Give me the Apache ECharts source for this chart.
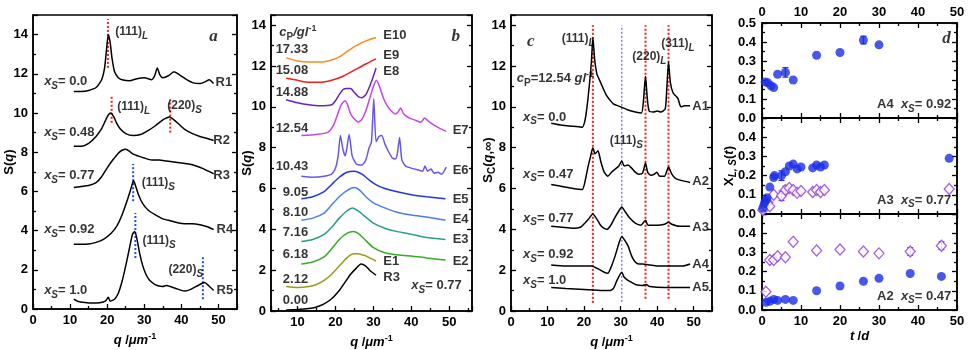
<!DOCTYPE html>
<html>
<head>
<meta charset="utf-8">
<script src="https://cdn.jsdelivr.net/npm/echarts@6/dist/echarts.min.js"></script>
<style>html,body{margin:0;background:#fff}#container{width:970px;height:350px}</style>
</head>
<body>
<div id="container"></div>
<script>
// ---------- panel a : S(q) of samples R1..R5 ----------
const r1 = [[11,11.1],[13,11.1],[15,11.15],[17,11.3],[18.5,11.7],[19.3,12.3],[19.8,13.2],[20.3,14.0],[20.8,13.6],[21.3,12.8],[22,12.1],[23,11.8],[24,11.7],[26,11.65],[28,11.75],[30,11.8],[32,11.7],[32.8,11.9],[33.5,12.3],[34.2,11.95],[35,11.8],[36.5,11.9],[38,12.1],[39.5,11.95],[41,11.75],[43,11.55],[45,11.5],[46.5,11.6],[47.5,11.7],[48.7,11.5]];
const r2 = [[11,8.3],[13,8.3],[15,8.45],[17,8.8],[18.5,9.2],[19.5,9.6],[20.3,9.9],[21,10.0],[21.8,9.8],[22.5,9.5],[23.5,9.2],[25,8.95],[27,8.85],[29,8.9],[31,9.1],[33,9.35],[35,9.65],[36.8,9.8],[38,9.65],[39.5,9.4],[41,9.15],[43,8.95],[45,8.8],[47,8.7],[48.7,8.6]];
const r3 = [[11,6.2],[13,6.25],[15,6.3],[17,6.45],[18.5,6.75],[20,7.2],[21.5,7.6],[23,7.95],[24,8.1],[25,8.15],[26,8.05],[27,7.9],[28.5,7.8],[30,7.7],[32,7.6],[34,7.6],[36,7.55],[38,7.5],[40,7.45],[42,7.4],[44,7.3],[46,7.15],[48.7,6.9]];
const r4 = [[11,3.3],[13,3.3],[15,3.32],[17,3.4],[19,3.55],[21,3.85],[22.5,4.2],[24,4.8],[25.5,5.6],[26.5,6.2],[27.1,6.55],[27.8,6.2],[28.5,5.8],[29.5,5.4],[31,5.05],[33,4.8],[35,4.6],[37,4.5],[39,4.4],[41,4.35],[43,4.35],[45,4.3],[47,4.2],[48.7,4.05]];
const r5 = [[11,0.5],[12,0.4],[14,0.33],[16,0.3],[18,0.32],[19.5,0.4],[20.3,0.6],[20.8,0.4],[22,0.5],[23,0.8],[24,1.4],[25,2.2],[26,3.1],[26.8,3.8],[27.4,3.95],[28,3.6],[28.8,2.8],[29.6,2.2],[30.5,1.75],[31.5,1.45],[32.5,1.3],[33.5,1.2],[35,1.15],[36,1.2],[37,1.15],[38.5,1.05],[40,0.95],[41,0.92],[42.5,1.0],[44,1.15],[45.5,1.3],[46.3,1.35],[47.3,1.2],[48.7,0.95]];
// dotted markers [q, from, to]
const redA = [[20.2,12.3,14.8],[21.2,9.5,10.9],[37,9.0,10.7]];
const blueA = [[27,5.5,7.4],[27.6,2.6,4.9],[45.8,0.5,2.65]];

// ---------- panel b : S(q) for different c_P ----------
const e10 = [[7,12.4],[10,12.25],[13,12.2],[16,12.2],[19,12.3],[21,12.45],[23,12.7],[25,12.95],[27,13.15],[29,13.3],[30.7,13.4]];
const e9 = [[7,11.4],[10,11.3],[13,11.2],[16,11.2],[19,11.3],[22,11.5],[25,11.8],[28,12.1],[30.7,12.35]];
const e8 = [[7,10.35],[10,10.2],[13,10.1],[16,10.05],[19,10.1],[20,10.3],[21,10.6],[22,10.85],[23,10.9],[24,10.9],[25,10.7],[26,10.5],[27,10.45],[28,10.6],[29,11.0],[30,11.5],[30.7,11.9]];
const e7 = [[11,8.6],[15,8.65],[18,8.75],[19.5,9.1],[20.5,9.6],[21.5,10.1],[22.5,10.3],[23.2,10.1],[24,9.65],[25,9.4],[26,9.25],[27,9.4],[28,9.8],[29,10.4],[30,11.0],[30.8,11.3],[31.6,11.0],[32.5,10.5],[33.5,10.1],[34.5,9.85],[35.8,9.65],[36.5,9.75],[37.2,9.95],[38,9.65],[39.5,9.45],[41,9.35],[42.5,9.25],[43.5,9.45],[44.5,9.3],[46,9.1],[47.5,8.95],[49.2,8.8]];
const e6 = [[11,6.6],[14,6.55],[17,6.6],[19,6.7],[20,7.0],[20.7,7.6],[21.3,8.6],[22,7.9],[22.6,7.6],[23.6,8.65],[24.4,7.6],[25.5,7.2],[27,7.15],[28,7.4],[28.8,7.95],[29.5,8.3],[30.1,10.4],[30.7,8.3],[31.5,8.55],[32.2,8.6],[33,8.2],[34,7.8],[35,7.5],[35.8,7.45],[36.3,7.7],[36.9,8.5],[37.5,7.4],[38.5,7.1],[40,7.0],[42,6.9],[43,6.85],[43.6,7.1],[44.3,6.85],[45.2,6.95],[46,6.75],[47,6.8],[48,6.7],[49.2,7.05]];
const e5 = [[11,5.5],[14,5.6],[17,5.85],[19,6.2],[21,6.55],[23,6.8],[25,6.85],[27,6.7],[29,6.4],[31,6.15],[33,6.0],[36,5.85],[40,5.7],[44,5.6],[49,5.5]];
const e4 = [[11,4.45],[14,4.55],[17,4.8],[19,5.2],[21,5.6],[23,5.9],[25,6.05],[26.5,5.9],[28,5.6],[30,5.3],[33,5.05],[36,4.85],[40,4.7],[44,4.6],[49,4.45]];
const e3 = [[11,3.4],[14,3.5],[17,3.75],[19,4.1],[21,4.55],[23,4.9],[24.5,5.05],[26,4.9],[28,4.6],[30,4.3],[33,4.05],[36,3.9],[39,3.8],[41,3.72],[44,3.6],[49,3.5]];
const e2 = [[11,2.3],[14,2.4],[17,2.65],[19,3.05],[21,3.5],[23,3.8],[24.7,3.9],[26,3.8],[28,3.45],[30,3.1],[33,2.85],[36,2.75],[40,2.7],[44,2.6],[49,2.5]];
const e1 = [[7,1.2],[10,1.15],[13,1.2],[15,1.3],[17,1.5],[19,1.8],[21,2.2],[23,2.6],[24.7,2.8],[26,2.8],[27,2.75],[28,2.7],[29,2.6],[30.7,2.45]];
const r3b = [[7,0.05],[10,0.07],[13,0.12],[15,0.2],[17,0.35],[19,0.6],[21,1.0],[22.5,1.4],[24,1.8],[25.5,2.1],[26.7,2.3],[28,2.2],[29,2.0],[30,1.85],[30.7,1.75]];
const curvesB = [e10, e9, e8, e7, e6, e5, e4, e3, e2, e1, r3b];
const coloursB = ['#ff8a1c', '#f0201c', '#6a20c8', '#c444ee', '#6657f2', '#2036e6', '#4a7cf2', '#2a9e88', '#38aa28', '#9a9a18', '#000'];

// ---------- panel c : S_C(q, inf) of A1..A5 ----------
const a1 = [[11,9.2],[14,9.1],[17,9.05],[19.5,9.0],[20.2,9.3],[20.8,10.0],[21.4,11.0],[22,12.2],[22.4,13.4],[22.9,12.3],[23.5,11.6],[24,11.4],[25,11.0],[26,10.6],[27,10.35],[28,10.15],[30,10.0],[32,9.85],[34,9.75],[35.7,9.7],[36.2,10.2],[36.8,11.5],[37.3,10.4],[37.8,9.8],[39,9.75],[40,9.8],[41,9.75],[42.2,9.9],[42.6,10.8],[43.1,12.2],[43.6,11.2],[44.3,10.7],[45,10.55],[45.7,10.4],[46.5,10.0],[47.5,10.05],[49,10.05]];
const a2 = [[11,6.2],[14,6.1],[17,6.0],[19.5,5.95],[20.2,6.3],[21,7.0],[21.8,7.6],[22.4,8.0],[23,7.7],[23.8,7.85],[24.6,7.3],[25.5,6.8],[26.5,6.6],[27.5,6.8],[28.5,6.95],[29.5,7.1],[30.3,7.35],[31,7.1],[32,7.15],[33,7.0],[34,6.8],[35,6.7],[36,6.75],[36.8,7.25],[37.4,6.8],[38.2,6.65],[39.2,6.7],[39.9,6.8],[40.7,6.6],[42,6.6],[43.1,7.05],[44,6.7],[45,6.5],[46.5,6.4],[49,6.3]];
const a3 = [[11,4.15],[14,4.1],[17,4.05],[19,4.1],[20.2,4.3],[21.2,4.5],[22.4,4.75],[23.5,4.5],[24.5,4.2],[25.5,4.05],[26.3,4.0],[27.3,4.2],[28.5,4.6],[29.5,4.9],[30.3,5.1],[31.3,4.85],[32.5,4.55],[34,4.3],[35.5,4.2],[36.8,4.45],[37.5,4.2],[40,4.2],[42,4.25],[43.1,4.35],[44,4.25],[46,4.15],[49,4.15]];
const a4 = [[11,2.25],[15,2.2],[19,2.2],[22,2.2],[24,2.05],[25.5,1.9],[26.5,1.85],[27.5,2.2],[28.5,2.7],[29.5,3.3],[30.3,3.65],[31,3.5],[32,3.2],[33,2.7],[34,2.4],[35,2.3],[36,2.3],[38,2.25],[40,2.2],[44,2.2],[47,2.2],[49,2.3]];
const a5 = [[11,1.15],[15,1.1],[20,1.05],[25,1.0],[27,1.0],[28,1.1],[29,1.5],[30.3,1.9],[31,1.65],[32,1.5],[33,1.4],[34,1.3],[36,1.25],[37,1.3],[38,1.2],[42,1.15],[46,1.15],[49,1.15]];
const redC = [[22.4,0.4,14.0],[36.8,0.6,14.0],[43.1,0.6,14.0]];
const blueC = [[30.3,0.45,14.0]];

// ---------- panel d : X_L,S(t) ----------
const topFilled = [[0.8,0.19],[1.5,0.185],[2.3,0.17],[3,0.16],[4,0.23],[6,0.24],[8,0.2],[14,0.33],[20,0.345],[26,0.41],[30,0.385]];
const topErr = [[6,0.24,0.025],[26,0.41,0.02]];
const midFilled = [[0.2,0.03],[0.6,0.055],[1,0.07],[1.3,0.085],[2,0.14],[3,0.19],[3.2,0.2],[5,0.2],[6,0.22],[7,0.25],[8,0.26],[9,0.235],[10,0.245],[13,0.24],[14,0.255],[15,0.245],[16,0.255],[48,0.29]];
const midOpen = [[0.2,0.02],[0.7,0.045],[1.5,0.06],[2,0.04],[3,0.1],[5,0.095],[6,0.125],[7,0.135],[8,0.125],[9,0.11],[10,0.12],[13,0.115],[14,0.125],[15,0.115],[16,0.125],[48,0.13]];
const midErrFilled = [[5,0.2,0.025]];
const midErrOpen = [[5,0.095,0.025],[6,0.125,0.02]];
const botFilled = [[1,0.04],[2,0.045],[3,0.055],[4,0.05],[6,0.055],[8,0.05],[14,0.1],[20,0.125],[26,0.15],[30,0.165],[38,0.19],[46,0.175]];
const botOpen = [[1,0.095],[2,0.26],[3,0.26],[4,0.28],[6,0.275],[8,0.355],[14,0.31],[20,0.315],[26,0.305],[30,0.295],[38,0.305],[46,0.335]];
const botErrOpen = [[38,0.305,0.02],[46,0.335,0.02]];

// ---------- texts ----------
const xs = v => `{i|x}{isub|S}{b|= ${v}}`;
const textA = [
  [22.2,14.15,'{s|(111)}{isub|L}'], [3,11.6,xs('0.0')], [49.2,11.55,'{b|R1}'],
  [22.7,10.3,'{s|(111)}{isub|L}'], [36.2,10.35,'{s|(220)}{isub|S}'],
  [3,9.0,xs('0.48')], [48.6,8.6,'{b|R2}'],
  [3,6.8,xs('0.77')], [48.6,6.8,'{b|R3}'], [29.3,6.45,'{s|(111)}{isub|S}'],
  [3,4.05,xs('0.92')], [49.5,4.05,'{b|R4}'], [29.5,3.5,'{s|(111)}{isub|S}'],
  [36.5,2.0,'{s|(220)}{isub|S}'], [3,0.95,xs('1.0')], [49.5,0.95,'{b|R5}'],
  [47.5,13.9,'{big|a}']
];
const textB = [
  [5.2,13.65,'{i|c}{sub|P}{i|/gl}{sup|-1}'],
  [32.6,13.5,'{b|E10}'], [32.6,12.5,'{b|E9}'], [32.6,11.75,'{b|E8}'],
  [50.9,8.85,'{b|E7}'], [50.9,6.9,'{b|E6}'], [50.9,5.45,'{b|E5}'], [50.9,4.5,'{b|E4}'],
  [50.9,3.5,'{b|E3}'], [50.9,2.45,'{b|E2}'], [32.6,2.45,'{b|E1}'], [32.6,1.65,'{b|R3}'],
  [40,1.25,xs('0.77')], [50.6,13.45,'{big|b}']
];
const cpLabels = [[12.8,12.8,'17.33'],[12.8,11.8,'15.08'],[12.8,10.7,'14.88'],[12.8,8.95,'12.54'],[12.8,7.1,'10.43'],[12.8,5.8,'9.05'],[12.8,4.85,'8.10'],[12.8,3.85,'7.16'],[12.8,2.75,'6.18'],[12.8,1.55,'2.12'],[12.8,0.5,'0.00']];
const textC = [
  [4.4,13.2,'{big|c}'], [13.9,13.35,'{s|(111)}{isub|L}'],
  [1.6,11.4,'{i|c}{sub|P}{b|=12.54 }{i|gl}{sup|-1}'],
  [33.2,12.45,'{s|(220)}{isub|L}'], [41.1,13.1,'{s|(311)}{isub|L}'],
  [3.3,9.5,xs('0.0')], [49.6,10.0,'{b|A1}'], [27,8.35,'{s|(111)}{isub|S}'],
  [3.3,6.7,xs('0.47')], [49.6,6.35,'{b|A2}'],
  [3.3,4.55,xs('0.77')], [49.6,4.1,'{b|A3}'],
  [3.3,2.75,xs('0.92')], [49.6,2.3,'{b|A4}'],
  [3.3,1.5,xs('1.0')], [49.6,1.15,'{b|A5}']
];
const textD1 = [[46.2,0.42,'{big|d}'], [29.5,0.07,'{b|A4  }' + xs('0.92')]];
const textD2 = [[29.5,0.073,'{b|A3  }' + xs('0.77')]];
const textD3 = [[29.5,0.073,'{b|A2  }' + xs('0.47')]];

// ---------- styling helpers ----------
const F = '"Liberation Sans", Arial, sans-serif';
function mkRich(fs) {
  const base = {fontFamily: F, fontWeight: 'bold', color: '#000'};
  return {
    b: Object.assign({fontSize: fs}, base),
    i: Object.assign({fontSize: fs, fontStyle: 'italic'}, base),
    s: Object.assign({fontSize: fs - 1}, base),
    sub: Object.assign({fontSize: 10, lineHeight: 10, padding: [9, 0, 0, 0]}, base),
    isub: Object.assign({fontSize: 10, lineHeight: 10, padding: [9, 0, 0, 0], fontStyle: 'italic'}, base),
    sup: Object.assign({fontSize: 9, lineHeight: 9, padding: [0, 0, 8, 0]}, base),
    big: {fontFamily: '"Liberation Serif", serif', fontWeight: 'bold', fontStyle: 'italic', fontSize: 17, color: '#000'}
  };
}
const rich = mkRich(13);
const richAx = mkRich(13);

const tickLine = {color: '#000', width: 1.3};
function valAxis(o, labels) {
  return Object.assign({
    type: 'value',
    axisLine: {show: true, onZero: false, lineStyle: {color: '#000', width: 1.5}},
    axisTick: {show: true, inside: true, length: 5, lineStyle: tickLine},
    minorTick: {show: true, splitNumber: 2, length: 3, lineStyle: tickLine},
    splitLine: {show: false},
    axisLabel: Object.assign({show: true, color: '#000', fontFamily: F, fontWeight: 'bold', fontSize: 13, margin: 5, showMaxLabel: false}, labels || {}),
    nameLocation: 'middle',
    nameTextStyle: {rich: richAx}
  }, o);
}
const dFmt = v => v.toFixed(1);

const grids = [
  {left: 33, top: 15, width: 204, height: 294},
  {left: 271, top: 15, width: 201, height: 296},
  {left: 511, top: 15, width: 201, height: 296},
  {left: 762, top: 23, width: 195, height: 95},
  {left: 762, top: 118, width: 195, height: 96},
  {left: 762, top: 214, width: 195, height: 96}
].map(g => Object.assign({show: true, borderColor: '#000', borderWidth: 1.5, backgroundColor: 'transparent', outerBoundsMode: 'none'}, g));

const qName = '{i|q} {b|/}{i|μm}{sup|-1}';
const xAxes = [
  valAxis({gridIndex: 0, min: 0, max: 55, interval: 10, name: qName, nameGap: 19}),
  valAxis({gridIndex: 1, min: 3, max: 56, name: qName, nameGap: 19}, {showMinLabel: false}),
  valAxis({gridIndex: 2, min: 0, max: 55, interval: 10, name: qName, nameGap: 19}),
  valAxis({gridIndex: 3, min: 0, max: 50, interval: 10, position: 'top'}, {showMaxLabel: true, margin: 4}),
  valAxis({gridIndex: 3, min: 0, max: 50, interval: 10, position: 'bottom'}, {show: false}),
  valAxis({gridIndex: 4, min: 0, max: 50, interval: 10, position: 'top'}, {show: false}),
  valAxis({gridIndex: 4, min: 0, max: 50, interval: 10, position: 'bottom'}, {show: false}),
  valAxis({gridIndex: 5, min: 0, max: 50, interval: 10, position: 'top'}, {show: false}),
  valAxis({gridIndex: 5, min: 0, max: 50, interval: 10, position: 'bottom', name: '{i|t} {b|/}{i|d}', nameGap: 20}, {showMaxLabel: true})
];
const yAxes = [
  valAxis({gridIndex: 0, min: 0, max: 15, interval: 2}),
  valAxis({gridIndex: 0, min: 0, max: 15, interval: 2, position: 'right'}, {show: false}),
  valAxis({gridIndex: 1, min: 0, max: 14.5, interval: 2}),
  valAxis({gridIndex: 1, min: 0, max: 14.5, interval: 2, position: 'right'}, {show: false}),
  valAxis({gridIndex: 2, min: 0, max: 14.5, interval: 2}),
  valAxis({gridIndex: 2, min: 0, max: 14.5, interval: 2, position: 'right'}, {show: false}),
  valAxis({gridIndex: 3, min: 0, max: 0.5, interval: 0.1}, {showMaxLabel: true, formatter: dFmt, margin: 6}),
  valAxis({gridIndex: 3, min: 0, max: 0.5, interval: 0.1, position: 'right'}, {show: false}),
  valAxis({gridIndex: 4, min: 0, max: 0.5, interval: 0.1}, {formatter: dFmt, margin: 6}),
  valAxis({gridIndex: 4, min: 0, max: 0.5, interval: 0.1, position: 'right'}, {show: false}),
  valAxis({gridIndex: 5, min: 0, max: 0.5, interval: 0.1}, {formatter: dFmt, margin: 6}),
  valAxis({gridIndex: 5, min: 0, max: 0.5, interval: 0.1, position: 'right'}, {show: false})
];

// rotated y-axis titles
function yTitle(x, y, text) {
  return {type: 'text', x: x, y: y, rotation: Math.PI / 2, silent: true,
    style: {text: text, rich: richAx, align: 'center', verticalAlign: 'middle'}};
}
const graphics = [
  yTitle(9, 162, '{b|S(}{i|q}{b|)}'),
  yTitle(247, 163, '{b|S(}{i|q}{b|)}'),
  yTitle(488, 160, '{b|S}{sub|C}{b|(}{i|q}{b|,∞)}'),
  yTitle(729, 166, '{b|X}{isub|L, S}{b|(}{i|t}{b|)}')
];

// ---------- series ----------
const series = [];
function curve(data, xi, yi, color) {
  series.push({type: 'line', xAxisIndex: xi, yAxisIndex: yi, data: data, symbol: 'none', smooth: 0.2,
    lineStyle: {color: color, width: 1.5}, silent: true, z: 3});
}
function dotted(list, xi, yi, color, w) {
  list.forEach(d => series.push({type: 'line', xAxisIndex: xi, yAxisIndex: yi, data: [[d[0], d[1]], [d[0], d[2]]],
    symbol: 'none', lineStyle: {color: color, width: w, type: [2, 2]}, silent: true, z: 2}));
}
function texts(list, xi, yi, align) {
  series.push({type: 'scatter', xAxisIndex: xi, yAxisIndex: yi, symbolSize: 0, silent: true, z: 5,
    data: list.map(d => ({value: [d[0], d[1]], name: d[2]})),
    label: {show: true, position: [0, 0], align: align, verticalAlign: 'middle', formatter: p => p.name,
      rich: rich, color: '#000', fontFamily: F, fontWeight: 'bold', fontSize: 13}});
}
function points(data, xi, yi, filled) {
  series.push(filled
    ? {type: 'scatter', xAxisIndex: xi, yAxisIndex: yi, data: data, symbol: 'circle', symbolSize: 9,
        itemStyle: {color: '#1a2ee8'}, z: 4, silent: true}
    : {type: 'scatter', xAxisIndex: xi, yAxisIndex: yi, data: data, symbol: 'diamond', symbolSize: [10, 11],
        itemStyle: {color: '#fff', borderColor: '#9038dc', borderWidth: 1.3}, z: 4, silent: true});
}
function errBars(data, xi, yi, color) {
  series.push({type: 'custom', xAxisIndex: xi, yAxisIndex: yi, data: data, z: 3, silent: true,
    renderItem: (params, api) => {
      const t = api.value(0), v = api.value(1), e = api.value(2);
      const a = api.coord([t, v + e]), b = api.coord([t, v - e]);
      const st = {stroke: color, lineWidth: 1.2};
      return {type: 'group', children: [
        {type: 'line', shape: {x1: a[0], y1: a[1], x2: b[0], y2: b[1]}, style: st},
        {type: 'line', shape: {x1: a[0] - 3, y1: a[1], x2: a[0] + 3, y2: a[1]}, style: st},
        {type: 'line', shape: {x1: b[0] - 3, y1: b[1], x2: b[0] + 3, y2: b[1]}, style: st}
      ]};
    }});
}

// panel a
[r1, r2, r3, r4, r5].forEach(c => curve(c, 0, 0, '#000'));
dotted(redA, 0, 0, '#e8251e', 2);
dotted(blueA, 0, 0, '#2a46ff', 2);
texts(textA, 0, 0, 'left');
// panel b
curvesB.forEach((c, k) => curve(c, 1, 2, coloursB[k]));
texts(textB, 1, 2, 'left');
texts(cpLabels.map(d => [d[0], d[1], '{b|' + d[2] + '}']), 1, 2, 'right');
// panel c
dotted(redC, 2, 4, '#e8251e', 2);
dotted(blueC, 2, 4, '#7c82ff', 1.5);
[a1, a2, a3, a4, a5].forEach(c => curve(c, 2, 4, '#000'));
texts(textC, 2, 4, 'left');
// panel d
errBars(topErr, 4, 6, '#1a2ee8');
points(topFilled, 4, 6, true);
texts(textD1, 4, 6, 'left');
errBars(midErrFilled, 6, 8, '#1a2ee8');
errBars(midErrOpen, 6, 8, '#9038dc');
points(midOpen, 6, 8, false);
points(midFilled, 6, 8, true);
texts(textD2, 6, 8, 'left');
errBars(botErrOpen, 8, 10, '#9038dc');
points(botOpen, 8, 10, false);
points(botFilled, 8, 10, true);
texts(textD3, 8, 10, 'left');

const chart = echarts.init(document.getElementById('container'));
chart.setOption({
  animation: false,
  backgroundColor: '#fff',
  grid: grids,
  xAxis: xAxes,
  yAxis: yAxes,
  graphic: graphics,
  series: series
});
</script>
</body>
</html>
